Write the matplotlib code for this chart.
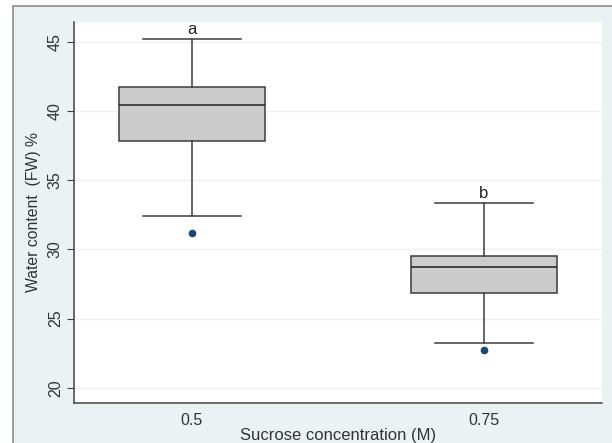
import matplotlib.pyplot as plt
from matplotlib.patches import Rectangle

plt.rcParams['font.family'] = ['Liberation Sans', 'DejaVu Sans']

groups = ['0.5', '0.75']
whisker_low = [32.43, 23.25]
q1 = [37.87, 26.89]
median = [40.43, 28.72]
q3 = [41.77, 29.52]
whisker_high = [45.24, 33.39]
outliers = [[31.18], [22.72]]
letters = ['a', 'b']

stats = []
for i in range(len(groups)):
    stats.append({'whislo': whisker_low[i], 'q1': q1[i], 'med': median[i],
                  'q3': q3[i], 'whishi': whisker_high[i], 'fliers': outliers[i]})

fig = plt.figure(figsize=(6.12, 4.43), dpi=100)
fig.patch.set_facecolor('white')
# outer stata-style frame
fig.patches.append(Rectangle((13 / 612, -0.1), 1.2, (443 - 6) / 443 + 0.1,
                             transform=fig.transFigure, facecolor='#eaf2f3',
                             edgecolor='#8c8c8c', linewidth=1.2, zorder=-10))

ax = fig.add_axes([74 / 612, 1 - 403 / 443, 528 / 612, 381 / 443])
ax.set_zorder(5)
ax.set_facecolor('white')
ax.bxp(stats, positions=[1, 2], widths=0.5, patch_artist=True,
       boxprops=dict(facecolor='#cccccc', edgecolor='#3c3c3c', linewidth=1.1),
       medianprops=dict(color='#1e1e1e', linewidth=1.1),
       whiskerprops=dict(color='#3c3c3c', linewidth=1.1),
       capprops=dict(color='#3c3c3c', linewidth=1.1), capwidths=0.336,
       flierprops=dict(marker='o', markerfacecolor='#1a476f', markeredgecolor='#1a476f',
                       markersize=4.5))

for i, s in enumerate(letters):
    ax.text(i + 1, whisker_high[i] + 0.1, s, ha='center', va='bottom', fontsize=12,
            color='#222222')

ax.set_xlim(0.596, 2.404)
ax.set_ylim(18.9, 46.45)
ax.set_yticks([20, 25, 30, 35, 40, 45])
ax.set_xticks([1, 2])
ax.set_xticklabels(groups)
ax.yaxis.grid(True, color='#eaf2f3', linewidth=1)
ax.set_axisbelow(True)
for sp in ['top', 'right']:
    ax.spines[sp].set_visible(False)
for sp in ['left', 'bottom']:
    ax.spines[sp].set_color('#444444')
    ax.spines[sp].set_linewidth(1.1)
ax.tick_params(axis='y', direction='out', length=5, color='#444444', labelsize=11.5,
               labelcolor='#333333', pad=3)
for lab in ax.get_yticklabels():
    lab.set_rotation(90)
    lab.set_va('center')
ax.tick_params(axis='x', length=0, labelsize=11.5, labelcolor='#333333', pad=7)
ax.set_ylabel('Water content  (FW) %', fontsize=11.3, color='#333333', labelpad=5)
ax.set_xlabel('Sucrose concentration (M)', fontsize=12, color='#333333', labelpad=0)

fig.savefig('out.png', dpi=100)
